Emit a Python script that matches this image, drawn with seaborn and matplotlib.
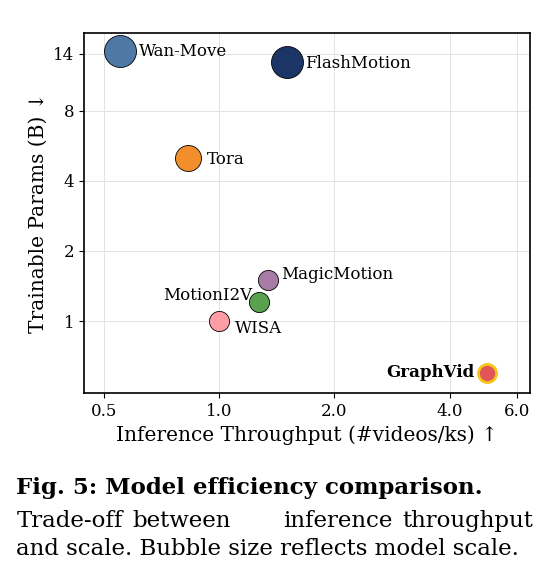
import matplotlib
matplotlib.use("Agg")
import matplotlib.pyplot as plt
import seaborn as sns
import pandas as pd
from matplotlib.ticker import FixedLocator, NullLocator

models = ["Wan-Move", "FlashMotion", "Tora", "MagicMotion", "MotionI2V", "WISA", "GraphVid"]
throughput = [0.55, 1.50, 0.83, 1.34, 1.27, 1.00, 5.0]
params = [14.4, 12.9, 5.0, 1.5, 1.21, 1.0, 0.60]
sizes = [530, 530, 350, 210, 210, 210, 170]
colors = ["#4e79a7", "#1b3566", "#f28e2b", "#a67ca6", "#59a14f", "#ff9da7", "#e15759"]
xticks = [0.5, 1.0, 2.0, 4.0, 6.0]
yticks = [1, 2, 4, 8, 14]

df = pd.DataFrame({"model": models, "x": throughput, "y": params, "s": sizes})

sns.set_style("ticks")
plt.rcParams["font.family"] = ["DejaVu Serif"]
plt.rcParams["text.color"] = "black"
plt.rcParams["axes.labelcolor"] = "black"
plt.rcParams["xtick.color"] = "black"
plt.rcParams["ytick.color"] = "black"

fig = plt.figure(figsize=(5.5, 5.8), dpi=100)
ax = fig.add_axes([0.153, 0.322, 0.811, 0.621])
ax.set_xscale("log")
ax.set_yscale("log")
ax.grid(True, color="#e3e3e3", linewidth=0.7, zorder=0)

for i, r in df.iterrows():
    edge = "#f5c518" if r["model"] == "GraphVid" else "black"
    lw = 2.0 if r["model"] == "GraphVid" else 0.6
    sns.scatterplot(x=[r["x"]], y=[r["y"]], s=r["s"], color=colors[i], edgecolor=edge,
                    linewidth=lw, ax=ax, zorder=3, legend=False)

labels = {
    "Wan-Move": (1.12, 1.0, "left"),
    "FlashMotion": (1.12, 0.985, "left"),
    "Tora": (1.12, 0.99, "left"),
    "MagicMotion": (1.08, 1.06, "left"),
    "MotionI2V": (0.96, 1.06, "right"),
    "WISA": (1.10, 0.93, "left"),
    "GraphVid": (0.93, 1.0, "right"),
}
for m, x, y in zip(models, throughput, params):
    fx, fy, ha = labels[m]
    ax.text(x * fx, y * fy, m, ha=ha, va="center", fontsize=12,
            fontweight="bold" if m == "GraphVid" else "normal", zorder=4)

ax.set_xlim(0.443, 6.5)
ax.set_ylim(0.49, 17.2)
ax.xaxis.set_major_locator(FixedLocator(xticks))
ax.xaxis.set_minor_locator(NullLocator())
ax.yaxis.set_major_locator(FixedLocator(yticks))
ax.yaxis.set_minor_locator(NullLocator())
ax.set_xticklabels([f"{t:.1f}" for t in xticks], fontsize=12)
ax.set_yticklabels([str(t) for t in yticks], fontsize=12)
ax.set_xlabel("Inference Throughput (#videos/ks) ↑", fontsize=14.5)
ax.set_ylabel("Trainable Params (B) ↓", fontsize=14.5)
for s in ax.spines.values():
    s.set_linewidth(1.2)
    s.set_color("black")

fig.text(0.03, 0.148, "Fig. 5: Model efficiency comparison.", fontsize=16.5, fontweight="bold")
for word, xpos, ha in [("Trade-off", 0.03, "left"), ("between", 0.33, "center"),
                       ("inference", 0.615, "center"), ("throughput", 0.97, "right")]:
    fig.text(xpos, 0.092, word, fontsize=16.5, ha=ha)
fig.text(0.03, 0.043, "and scale. Bubble size reflects model scale.", fontsize=16.5)

fig.savefig("out.png", dpi=100)
